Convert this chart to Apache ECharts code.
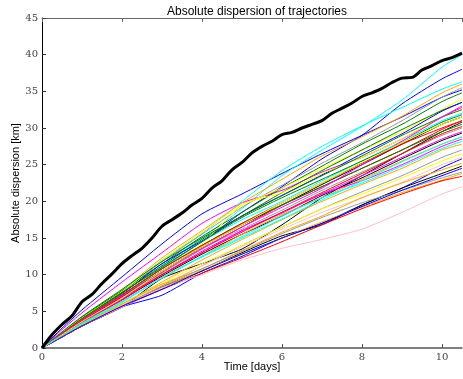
<!DOCTYPE html>
<html>
<head>
<meta charset="utf-8">
<script src="https://cdn.jsdelivr.net/npm/echarts@6/dist/echarts.min.js"></script>
<style>
  html, body { margin: 0; padding: 0; background: #fff; }
  #chart { width: 463px; height: 379px; }
</style>
</head>
<body>
<div id="chart"></div>
<script>
// time samples (days) for the thin trajectories
var times = [0, 0.5, 1, 2, 3, 4, 5, 6, 7, 8, 9, 10, 10.5];

// mean dispersion (thick black), sampled every quarter day
var meanTimes = [0, 0.25, 0.5, 0.75, 1, 1.25, 1.5, 1.75, 2, 2.25, 2.5, 2.75, 3, 3.25, 3.5, 3.75,
  4, 4.25, 4.5, 4.75, 5, 5.25, 5.5, 5.75, 6, 6.25, 6.5, 6.75, 7, 7.25, 7.5, 7.75,
  8, 8.25, 8.5, 8.75, 9, 9.25, 9.5, 9.75, 10, 10.25, 10.5];
var meanValues = [0, 1.8, 3.2, 4.4, 6.3, 7.3, 8.8, 10.1, 11.5, 12.6, 13.6, 15.0, 16.6, 17.5, 18.4, 19.5,
  20.4, 21.8, 22.8, 24.3, 25.3, 26.6, 27.5, 28.2, 29.1, 29.4, 30.0, 30.5, 31.0, 32.0, 32.7, 33.4,
  34.3, 34.8, 35.4, 36.2, 36.8, 36.9, 37.9, 38.5, 39.2, 39.6, 40.2];

// thin trajectories, one row per curve, values at `times`
var curves = [
  [0, 2.7, 5.2, 9.7, 14.2, 18.3, 21.0, 23.8, 26.5, 29.0, 31.5, 34.2, 35.2],
  [0, 2.0, 4.0, 7.5, 11.3, 15.0, 19.0, 23.5, 27.0, 30.2, 33.8, 38.3, 40.0],
  [0, 1.9, 3.8, 7.2, 11.0, 14.5, 18.5, 22.0, 25.8, 29.0, 33.3, 36.7, 38.0],
  [0, 2.5, 4.8, 9.0, 13.0, 17.0, 19.8, 21.5, 24.0, 26.0, 28.5, 31.5, 33.0],
  [0, 2.1, 4.2, 7.8, 12.0, 15.6, 20.0, 24.2, 27.5, 30.3, 32.8, 35.3, 36.3],
  [0, 2.1, 4.2, 7.9, 12.3, 16.0, 19.8, 23.0, 26.2, 28.8, 31.6, 34.8, 36.0],
  [0, 2.0, 4.0, 7.6, 11.8, 15.5, 19.2, 22.2, 25.2, 28.0, 31.0, 34.2, 35.5],
  [0, 2.1, 4.2, 7.8, 11.5, 15.2, 18.5, 21.8, 24.8, 27.8, 30.5, 33.6, 34.8],
  [0, 2.1, 4.1, 7.7, 12.0, 15.8, 19.5, 21.8, 24.5, 27.0, 29.5, 32.5, 34.0],
  [0, 2.0, 4.0, 7.5, 11.2, 14.8, 18.0, 21.2, 24.2, 27.0, 29.8, 32.4, 33.5],
  [0, 2.0, 3.9, 7.4, 11.5, 14.6, 18.0, 20.8, 23.6, 26.5, 29.2, 32.3, 33.5],
  [0, 2.0, 3.9, 7.3, 11.0, 14.2, 19.5, 21.2, 23.8, 26.0, 28.5, 31.5, 32.5],
  [0, 1.9, 3.7, 7.0, 10.8, 14.5, 17.5, 20.0, 22.8, 25.5, 28.2, 31.0, 32.0],
  [0, 2.0, 4.0, 7.6, 11.0, 14.5, 17.8, 20.5, 23.0, 25.5, 28.0, 30.8, 31.8],
  [0, 1.9, 3.7, 7.0, 10.5, 13.8, 16.8, 19.5, 22.3, 25.0, 27.8, 30.5, 31.5],
  [0, 1.9, 3.7, 7.0, 10.3, 13.5, 16.5, 19.5, 22.0, 24.5, 27.0, 29.8, 31.0],
  [0, 1.5, 3.0, 5.6, 9.5, 11.5, 13.5, 16.8, 20.5, 23.5, 26.5, 29.5, 30.8],
  [0, 1.9, 3.8, 7.2, 10.8, 14.0, 17.0, 19.5, 22.0, 24.5, 27.0, 29.5, 30.5],
  [0, 1.8, 3.6, 6.8, 10.2, 13.5, 16.2, 18.8, 21.5, 24.0, 26.5, 29.0, 30.0],
  [0, 1.8, 3.5, 6.5, 10.0, 13.0, 16.0, 18.5, 21.0, 23.5, 26.0, 28.5, 29.5],
  [0, 1.8, 3.5, 6.6, 9.8, 12.8, 15.5, 18.0, 20.8, 23.2, 25.8, 28.3, 29.3],
  [0, 1.7, 3.4, 6.4, 9.5, 12.5, 15.5, 18.2, 20.5, 23.0, 25.5, 27.8, 28.8],
  [0, 1.8, 3.5, 6.6, 10.0, 13.2, 16.0, 18.4, 21.0, 22.8, 25.0, 27.5, 28.5],
  [0, 1.7, 3.4, 6.3, 9.6, 12.5, 15.2, 18.0, 20.5, 22.5, 24.8, 27.2, 28.2],
  [0, 1.6, 3.2, 6.0, 9.0, 12.0, 14.8, 17.5, 20.0, 22.3, 24.5, 27.0, 27.8],
  [0, 1.6, 3.1, 5.8, 8.5, 11.2, 14.0, 16.5, 19.0, 21.3, 23.5, 26.0, 27.0],
  [0, 1.6, 3.2, 6.0, 8.8, 11.5, 14.0, 16.5, 19.0, 21.0, 23.2, 25.5, 26.5],
  [0, 1.6, 3.1, 5.8, 8.6, 11.2, 13.8, 16.2, 18.5, 20.5, 22.6, 25.0, 26.0],
  [0, 1.5, 3.0, 5.6, 7.2, 10.2, 12.5, 15.0, 17.0, 19.5, 21.8, 24.6, 25.8],
  [0, 1.6, 3.2, 6.0, 8.7, 10.8, 13.3, 15.8, 18.0, 20.5, 22.5, 24.3, 25.2],
  [0, 1.5, 3.0, 5.6, 8.3, 10.5, 13.0, 15.3, 16.8, 19.5, 21.8, 23.8, 24.8],
  [0, 1.5, 3.0, 5.7, 8.4, 10.8, 13.2, 15.6, 17.8, 19.8, 21.5, 23.2, 24.0],
  [0, 1.5, 3.0, 5.6, 8.2, 10.6, 12.8, 15.0, 17.2, 19.2, 21.2, 22.9, 23.8],
  [0, 1.5, 3.0, 5.6, 8.0, 10.2, 12.3, 14.5, 16.8, 19.0, 21.0, 22.8, 23.4],
  [0, 1.5, 3.0, 5.6, 8.2, 10.0, 12.0, 13.6, 14.8, 16.2, 18.5, 21.0, 22.0],
  [0, 1.5, 3.0, 5.7, 8.0, 10.5, 12.8, 15.0, 17.0, 19.3, 21.5, 23.5, 24.5],
  [0, 2.0, 3.9, 7.3, 10.8, 14.0, 17.0, 19.8, 22.5, 25.2, 27.8, 30.0, 31.0],
  [0, 2.2, 4.3, 8.0, 11.8, 15.0, 18.0, 20.8, 23.5, 26.2, 29.0, 31.5, 32.5],
  [0, 1.8, 3.6, 6.8, 10.0, 13.0, 15.8, 18.5, 21.2, 23.8, 26.5, 29.2, 30.2],
  [0, 1.9, 3.8, 7.1, 10.5, 13.6, 16.5, 19.2, 21.8, 25.0, 28.2, 31.5, 32.8],
  [0, 1.8, 3.6, 6.8, 10.5, 13.8, 16.8, 19.8, 22.5, 25.3, 28.0, 30.5, 31.5],
  [0, 1.7, 3.3, 6.2, 9.6, 12.4, 15.0, 17.6, 20.2, 22.8, 25.4, 27.8, 28.8]
];
var curveColors = [
  '#0000ff', '#00ffff', '#0000ff', '#ff00ff', '#00ffff', '#ffa500', '#999999', '#008000',
  '#ffff00', '#008000', '#0000ff', '#ffff00', '#00ffff', '#008000', '#000000', '#ff0000',
  '#000000', '#008000', '#999999', '#ff00ff', '#000000', '#ffa500', '#ff00ff', '#00ffff',
  '#ffa500', '#999999', '#ffff00', '#ffc0cb', '#0000ff', '#ffa500', '#000000', '#999999',
  '#ffa500', '#ff0000', '#ffc0cb', '#0000ff', '#ff0000', '#008000', '#ff0000', '#ff00ff',
  '#ffff00', '#00ffff'
];

var xTicks = [0, 2, 4, 6, 8, 10];
var yTicks = [0, 5, 10, 15, 20, 25, 30, 35, 40, 45];

var chart = echarts.init(document.getElementById('chart'));

function pairs(xs, ys) {
  return ys.map(function (v, i) { return [xs[i], v]; });
}

var series = curves.map(function (c, i) {
  return {
    type: 'line',
    data: pairs(times, c),
    showSymbol: false,
    smooth: 0.2,
    lineStyle: { color: curveColors[i], width: 1 },
    z: 2
  };
});
series.push({
  type: 'line',
  data: pairs(meanTimes, meanValues),
  showSymbol: false,
  smooth: 0.3,
  lineStyle: { color: '#000', width: 3 },
  z: 3
});

var serif = 'DejaVu Serif';
var sans = 'Liberation Sans';

chart.setOption({
  animation: false,
  backgroundColor: '#fff',
  title: {
    text: 'Absolute dispersion of trajectories',
    left: 252,
    top: 1,
    textAlign: 'center',
    textStyle: { fontFamily: sans, fontSize: 12, fontWeight: 'normal', color: '#000' }
  },
  grid: { left: 42, right: 1, top: 18, bottom: 31, outerBoundsMode: 'none' },
  xAxis: [{
    type: 'value',
    min: 0,
    max: 10.5,
    interval: 2,
    name: 'Time [days]',
    nameLocation: 'middle',
    nameGap: 13,
    nameMoveOverlap: false,
    nameTextStyle: { fontFamily: sans, fontSize: 11, color: '#000' },
    axisLine: { onZero: false, lineStyle: { color: '#555', width: 1.5 } },
    axisTick: { inside: true, length: 4, lineStyle: { color: '#555' } },
    axisLabel: {
      fontFamily: serif, fontSize: 10, color: '#444', margin: 4,
      showMaxLabel: false,
      formatter: function (v) { return xTicks.indexOf(v) >= 0 ? String(v) : ''; }
    },
    splitLine: { show: false }
  }, {
    type: 'value',
    position: 'top',
    min: 0,
    max: 10.5,
    interval: 2,
    axisLine: { onZero: false, lineStyle: { color: '#666', width: 1 } },
    axisTick: { inside: true, length: 4, lineStyle: { color: '#666' } },
    axisLabel: { show: false },
    splitLine: { show: false }
  }],
  yAxis: {
    type: 'value',
    min: 0,
    max: 45,
    interval: 5,
    name: 'Absolute dispersion [km]',
    nameLocation: 'middle',
    nameGap: 21,
    nameMoveOverlap: false,
    nameTextStyle: { fontFamily: sans, fontSize: 11, color: '#000' },
    axisLine: { show: true, onZero: false, lineStyle: { color: '#000', width: 1 } },
    axisTick: { show: true, inside: true, length: 4, lineStyle: { color: '#333' } },
    axisLabel: {
      fontFamily: serif, fontSize: 10, color: '#444', margin: 4,
      formatter: function (v) { return yTicks.indexOf(v) >= 0 ? String(v) : ''; }
    },
    splitLine: { show: false }
  },
  series: series
});
</script>
</body>
</html>
